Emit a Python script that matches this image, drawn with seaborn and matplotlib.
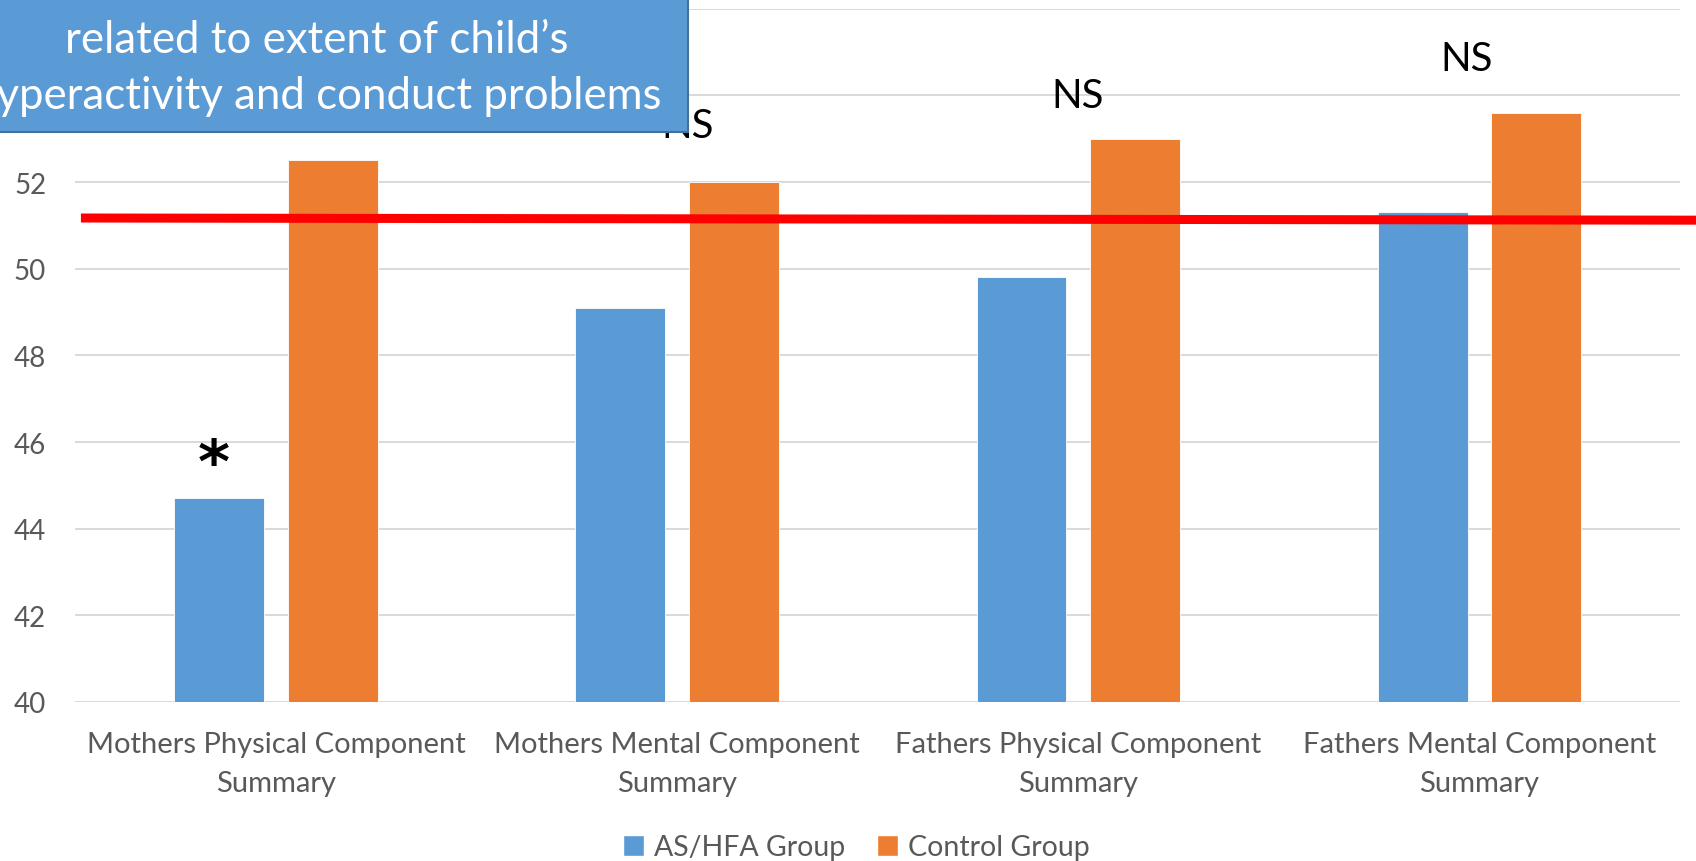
import matplotlib
matplotlib.use("Agg")
import matplotlib.pyplot as plt
from matplotlib.patches import Rectangle, Patch
import seaborn as sns
import pandas as pd

# --- data ---
measures = [
    "Mothers Physical Component\nSummary",
    "Mothers Mental Component\nSummary",
    "Fathers Physical Component\nSummary",
    "Fathers Mental Component\nSummary",
]
groups = ["AS/HFA Group", "Control Group"]
as_hfa_scores = [44.7, 49.1, 49.8, 51.3]
control_scores = [52.5, 52.0, 53.0, 53.6]
significance = ["*", "NS", "NS", "NS"]
reference_level = 51.15
y_ticks = [40, 42, 44, 46, 48, 50, 52, 54, 56]
callout_lines = ["related to extent of child\u2019s",
                 "hyperactivity and conduct problems"]

blue = "#5B9BD5"
orange = "#ED7D31"
grid_grey = "#D9D9D9"
label_grey = "#595959"

df = pd.DataFrame({
    "measure": measures * 2,
    "score": as_hfa_scores + control_scores,
    "group": [groups[0]] * 4 + [groups[1]] * 4,
})

sns.set_theme(style="white")
plt.rcParams["font.family"] = ["Lato", "DejaVu Sans"]

fig = plt.figure(figsize=(16.96, 8.62), dpi=100)
ax = fig.add_axes([0.0444, 0.1845, 0.9462, 0.8042])

sns.barplot(data=df, x="measure", y="score", hue="group",
            palette=[blue, orange], saturation=1, width=0.566, gap=0.21,
            edgecolor="white", linewidth=0.6, legend=False, ax=ax)

ax.set_ylim(40, 56)
ax.set_xlim(-0.5, 3.5)
ax.set_yticks(y_ticks)
ax.yaxis.grid(True, color=grid_grey, linewidth=1.4)
ax.set_axisbelow(True)
for s in ax.spines.values():
    s.set_visible(False)
ax.set_xlabel("")
ax.set_ylabel("")
ax.tick_params(axis="y", length=0, pad=21, labelsize=20, labelcolor=label_grey)
ax.tick_params(axis="x", length=0, pad=21, labelsize=21, labelcolor=label_grey)
for lbl in ax.get_xticklabels():
    lbl.set_linespacing(1.62)

# significance markers
sig_pos = [(-0.154, 45.45), (1.027, 53.3), (1.998, 54.0), (2.969, 54.85)]
for (x, y), txt in zip(sig_pos, significance):
    if txt == "*":
        ax.text(x, y, txt, ha="center", va="center", fontsize=44,
                fontweight="bold", color="black", family="DejaVu Sans")
    else:
        ax.text(x, y, txt, ha="center", va="center", fontsize=29, color="black")

# reference line across the chart
ax.plot([-0.486, 3.55], [reference_level + 0.02, reference_level - 0.03],
        color="#FF0000", linewidth=6.5, solid_capstyle="butt", clip_on=False,
        zorder=5)

# callout box
box = Rectangle((-0.032, 0.8457), 0.4375, 0.3, transform=fig.transFigure,
                facecolor=blue, edgecolor="#41719C", linewidth=1.5, zorder=10)
fig.add_artist(box)
for y, line in zip([0.9535, 0.8880], callout_lines):
    fig.text(0.187, y, line, ha="center", va="center", color="white",
             fontsize=31.5, zorder=11)

# legend
handles = [Patch(facecolor=blue, label=groups[0]),
           Patch(facecolor=orange, label=groups[1])]
fig.legend(handles=handles, loc="center", bbox_to_anchor=(0.505, 0.016),
           ncol=2, frameon=False, fontsize=20.5, handlelength=0.75,
           handleheight=0.75, handletextpad=0.35, columnspacing=1.1,
           labelcolor=label_grey)

fig.savefig("out.png", dpi=100)
